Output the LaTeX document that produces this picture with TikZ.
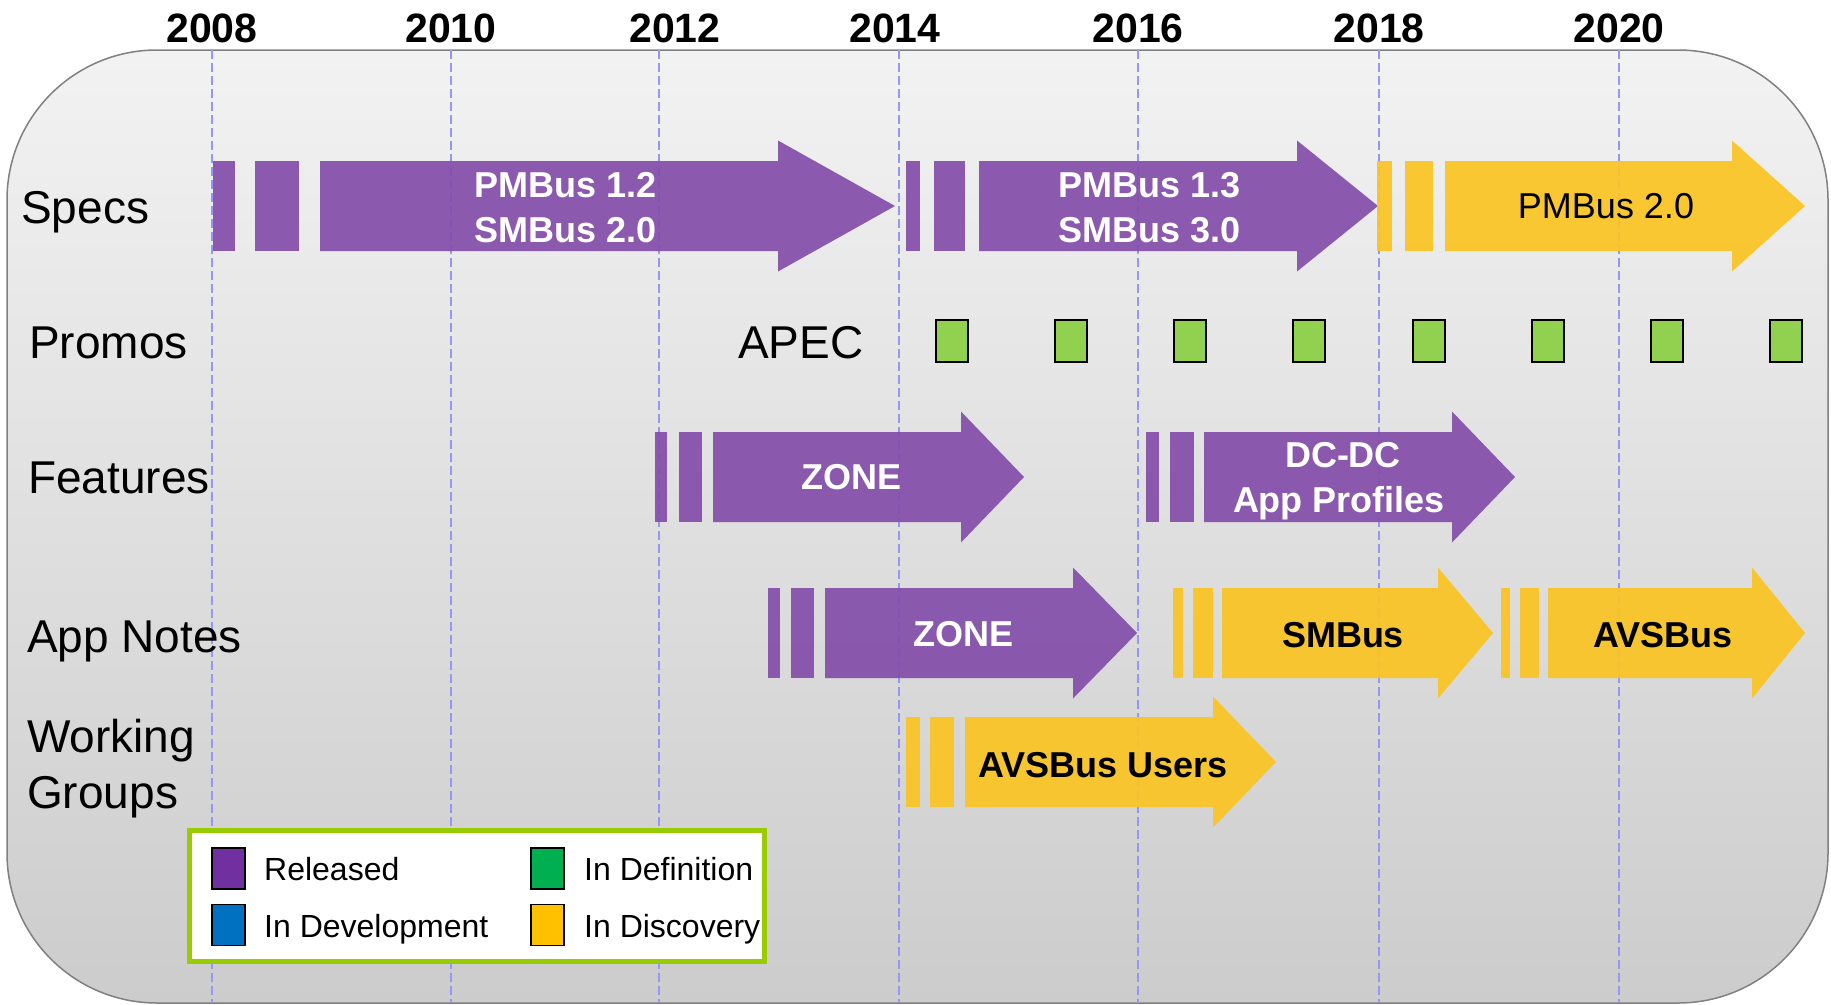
\documentclass[tikz,border=0pt]{standalone}
\usepackage{fontspec}
\setmainfont{Liberation Sans}
\definecolor{arpurple}{RGB}{131,78,170}
\definecolor{aryellow}{RGB}{250,196,34}
\definecolor{promogreen}{RGB}{146,208,80}
\definecolor{legpurple}{RGB}{112,48,160}
\definecolor{legblue}{RGB}{0,112,192}
\definecolor{leggreen}{RGB}{0,176,80}
\definecolor{legyellow}{RGB}{255,192,0}
\definecolor{legborder}{RGB}{153,204,0}
\definecolor{gridblue}{RGB}{150,150,250}
\newcommand{\tlarrow}[9]{%
  \fill[#1] (#2,#9-45) rectangle (#3,#9+45);
  \fill[#1] (#4,#9-45) rectangle (#5,#9+45);
  \fill[#1] (#6,#9-45) -- (#7,#9-45) -- (#7,#9-65.5) -- (#8,#9) -- (#7,#9+65.5) -- (#7,#9+45) -- (#6,#9+45) -- cycle;
}
\begin{document}
\begin{tikzpicture}[x=1pt,y=-1pt,
  rowlabel/.style={anchor=base west, inner sep=0, font=\fontsize{46}{52}\selectfont},
  yearlabel/.style={anchor=base, inner sep=0, font=\fontsize{41}{48}\selectfont\bfseries},
  wtext/.style={anchor=base, inner sep=0, text=white, font=\fontsize{36}{42}\selectfont\bfseries},
  btext/.style={anchor=base, inner sep=0, text=black, font=\fontsize{36}{42}\selectfont\bfseries},
  rtext/.style={anchor=base, inner sep=0, text=black, font=\fontsize{36}{42}\selectfont},
  legtext/.style={anchor=base west, inner sep=0, font=\fontsize{32}{38}\selectfont},
  promo/.style={draw=black, line width=2pt, fill=promogreen, minimum width=32pt, minimum height=42pt, inner sep=0},
  legsq/.style={draw=black, line width=1.8pt, minimum width=33pt, minimum height=41pt, inner sep=0},
  grid/.style={draw=gridblue, line width=1.3pt, dash pattern=on 9pt off 4pt},
  purp/.style={fill=arpurple, fill opacity=0.92},
  yell/.style={fill=aryellow, fill opacity=0.92}]
\useasboundingbox (0,0) rectangle (1831,1004);
% background
\shadedraw[top color=black!5, bottom color=black!20, draw=black!50, line width=1.5pt, rounded corners=150pt]
  (7,50) rectangle (1828,1003);
% year grid lines
\foreach \x in {212,451,659,899,1138,1379,1619}
  \draw[grid] (\x,50) -- (\x,1003);
% years
\node[yearlabel] (y2008) at (212,42) {2008};
\node[yearlabel] (y2010) at (451,42) {2010};
\node[yearlabel] (y2012) at (675,42) {2012};
\node[yearlabel] (y2014) at (895,42) {2014};
\node[yearlabel] (y2016) at (1138,42) {2016};
\node[yearlabel] (y2018) at (1379,42) {2018};
\node[yearlabel] (y2020) at (1619,42) {2020};
% row labels
\node[rowlabel] (specs) at (21,223) {Specs};
\node[rowlabel] (promos) at (29,358) {Promos};
\node[rowlabel] (features) at (28,493) {Features};
\node[rowlabel] (appnotes) at (27,652) {App Notes};
\node[rowlabel] (working) at (27,752) {Working};
\node[rowlabel] (groups) at (27,808) {Groups};
% specs arrows
\tlarrow{purp}{213}{235}{255}{299}{320}{778}{895}{206}
\tlarrow{purp}{906}{920}{934}{965}{979}{1297}{1378}{206}
\tlarrow{yell}{1377}{1392}{1405}{1433}{1445}{1732}{1805}{206}
\node[wtext] (pm12) at (566,197) {PMBus 1.2};
\node[wtext] (sm20) at (566,242) {SMBus 2.0};
\node[wtext] (pm13) at (1150,197) {PMBus 1.3};
\node[wtext] (sm30) at (1150,242) {SMBus 3.0};
\node[rtext] (pm20) at (1606,218) {PMBus 2.0};
% promos
\node[rowlabel] (apec) at (738,358) {APEC};
\foreach \i/\x in {1/952,2/1071,3/1190,4/1309,5/1429,6/1548,7/1667,8/1786}
  \node[promo] (promo\i) at (\x,341) {};
% features
\tlarrow{purp}{655}{667}{679}{702}{713}{961}{1024}{477}
\tlarrow{purp}{1146}{1159}{1170}{1194}{1204}{1452}{1515}{477}
\node[wtext] (fzone) at (851,489) {ZONE};
\node[wtext] (dcdc) at (1343,467) {DC-DC};
\node[wtext] (appprof) at (1339,512) {App Profiles};
% app notes
\tlarrow{purp}{768}{780}{791}{814}{825}{1073}{1137}{633}
\tlarrow{yell}{1173}{1183}{1193}{1213}{1222}{1438}{1493}{633}
\tlarrow{yell}{1501}{1510}{1520}{1539}{1548}{1752}{1805}{633}
\node[wtext] (azone) at (963,646) {ZONE};
\node[btext] (smbus) at (1343,647) {SMBus};
\node[btext] (avsbus) at (1663,647) {AVSBus};
% working groups
\tlarrow{yell}{906}{920}{930}{954}{965}{1213}{1276}{762}
\node[btext] (avsusers) at (1103,777) {AVSBus Users};
% legend
\draw[draw=legborder, line width=5pt, fill=white] (189,830) rectangle (764,961);
\node[legsq, fill=legpurple] (lp) at (228.5,868.5) {};
\node[legsq, fill=legblue] (lb) at (228.5,925) {};
\node[legsq, fill=leggreen] (lg) at (547.5,868.5) {};
\node[legsq, fill=legyellow] (ly) at (547.5,925) {};
\node[legtext] (released) at (264,880) {Released};
\node[legtext] (indev) at (264,937) {In Development};
\node[legtext] (indef) at (584,880) {In Definition};
\node[legtext] (indisc) at (584,937) {In Discovery};
\end{tikzpicture}
\end{document}
